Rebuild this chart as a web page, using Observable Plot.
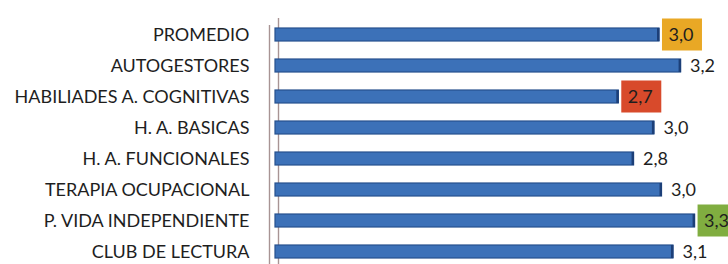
<!DOCTYPE html>
<html>
<head>
<meta charset="utf-8">
<script src="https://cdn.jsdelivr.net/npm/d3@7"></script>
<script src="https://cdn.jsdelivr.net/npm/@observablehq/plot@0.6"></script>
<style>
  html, body { margin: 0; padding: 0; background: #fff; }
  #chart svg { display: block; }
</style>
</head>
<body>
<div id="chart"></div>
<script>
const categories = [
  "PROMEDIO",
  "AUTOGESTORES",
  "HABILIADES A. COGNITIVAS",
  "H. A. BASICAS",
  "H. A. FUNCIONALES",
  "TERAPIA OCUPACIONAL",
  "P. VIDA INDEPENDIENTE",
  "CLUB DE LECTURA"
];
const values = [3.02, 3.19, 2.70, 2.98, 2.82, 3.04, 3.30, 3.13];
const highlight = ["#e9a825", null, "#d84a2b", null, null, null, "#80ad40", null];

const data = categories.map((c, i) => ({
  cat: c,
  value: values[i],
  label: values[i].toFixed(1).replace(".", ","),
  box: highlight[i]
}));
const boxed = data.filter(d => d.box);

const chart = Plot.plot({
  width: 728,
  height: 264,
  marginLeft: 275,
  marginRight: 8,
  marginTop: 19,
  marginBottom: -3,
  style: { fontFamily: "Lato, sans-serif", background: "#fff" },
  x: { domain: [0, 3.5], axis: null },
  y: { domain: categories, paddingInner: 0.565, paddingOuter: 0.2825, label: null, tickSize: 0, tickPadding: 26 },
  marks: [
    Plot.ruleX([0], { stroke: "#a89494", strokeWidth: 1.4, dx: -6, insetTop: 6 }),
    Plot.ruleX([0], { stroke: "#a89494", strokeWidth: 1.4, dx: 3, insetTop: -1 }),
    Plot.barX(boxed, { y: "cat", x1: "value", x2: "value", fill: "box", insetLeft: 3, insetRight: -43, insetTop: -9.5, insetBottom: -9.5 }),
    Plot.barX(data, { y: "cat", x: "value", fill: "#3c71b8", stroke: "#26508e", strokeWidth: 1.2 }),
    Plot.tickX(data, { y: "cat", x: "value", stroke: "#1c3f78", strokeWidth: 2.5, dx: -1.25 }),
    Plot.text(data, { y: "cat", x: "value", text: "label", textAnchor: "start", dx: 9, fontSize: 18, fill: "#1e1e1e" }),
    Plot.axisY({ tickSize: 0, tickPadding: 26, fontSize: 18, fill: "#1e1e1e", label: null })
  ]
});
document.getElementById("chart").appendChild(chart);
</script>
</body>
</html>
